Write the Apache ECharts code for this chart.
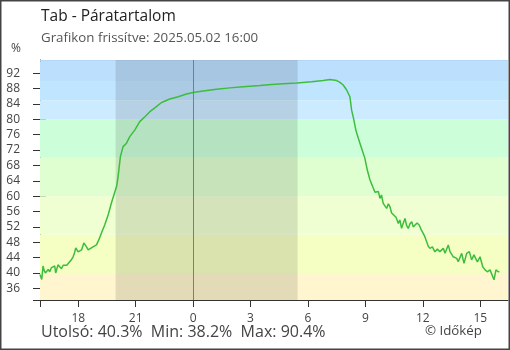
<!DOCTYPE html>
<html>
<head>
<meta charset="utf-8">
<script src="https://cdn.jsdelivr.net/npm/echarts@6/dist/echarts.min.js"></script>
<style>
html,body{margin:0;padding:0;background:#fff;}
#c{width:510px;height:350px;}
</style>
</head>
<body>
<div id="c"></div>
<script>
// hours relative to midnight of 2025.05.02, humidity %
const humidityPoints = [
[-8.00,39.6],[-7.96,39.0],[-7.91,38.3],[-7.84,41.8],[-7.78,40.6],[-7.72,40.0],[-7.66,40.5],[-7.57,40.9],
[-7.49,40.3],[-7.40,41.4],[-7.30,41.0],[-7.23,41.8],[-7.18,40.0],[-7.06,42.1],[-6.97,42.6],[-6.88,41.1],
[-6.79,42.0],[-6.71,42.4],[-6.60,42.0],[-6.45,42.9],[-6.35,43.5],[-6.27,44.2],[-6.20,45.2],[-6.13,46.5],
[-6.01,45.5],[-5.92,46.0],[-5.83,46.0],[-5.71,47.8],[-5.57,46.8],[-5.48,46.0],[-5.40,45.7],[-5.23,46.8],
[-5.05,47.3],[-4.93,48.6],[-4.79,50.4],[-4.62,52.5],[-4.44,55.1],[-4.27,58.2],[-4.09,61.1],[-4.00,62.5],
[-3.92,65.1],[-3.80,70.3],[-3.66,72.9],[-3.48,73.8],[-3.31,75.5],[-3.05,77.2],[-2.79,79.4],[-2.52,80.7],
[-2.26,82.0],[-2.00,83.0],[-1.65,84.4],[-1.22,85.3],[-0.78,85.9],[-0.35,86.6],[0.00,87.0],[0.52,87.4],
[1.22,87.85],[1.92,88.2],[2.61,88.5],[3.49,88.8],[4.10,89.1],[4.70,89.3],[5.41,89.5],[6.19,89.8],
[6.80,90.1],[7.15,90.4],[7.50,90.1],[7.67,89.65],[7.84,88.95],[8.02,87.65],[8.19,85.9],[8.28,82.4],
[8.40,79.8],[8.50,77.2],[8.63,75.1],[8.80,72.5],[8.97,69.9],[9.10,66.8],[9.24,64.2],[9.41,62.1],
[9.50,61.0],[9.59,60.75],[9.68,61.2],[9.76,59.4],[9.84,60.3],[9.93,58.1],[10.02,57.6],[10.11,56.8],
[10.20,58.0],[10.28,57.3],[10.37,55.6],[10.46,55.1],[10.60,54.5],[10.72,52.9],[10.80,53.8],[10.89,51.6],
[10.98,53.0],[11.07,54.2],[11.15,52.4],[11.24,51.6],[11.33,52.8],[11.42,53.35],[11.50,52.0],[11.59,52.1],
[11.70,53.0],[11.81,52.5],[11.92,51.2],[12.02,50.3],[12.10,49.5],[12.20,48.15],[12.28,47.0],[12.37,46.4],
[12.50,46.8],[12.63,45.5],[12.76,46.2],[12.89,45.55],[13.07,46.4],[13.16,45.1],[13.33,47.3],[13.42,45.55],
[13.59,44.2],[13.77,43.8],[13.85,42.9],[14.03,45.1],[14.15,42.5],[14.29,45.1],[14.43,45.55],[14.55,43.4],
[14.67,44.7],[14.85,42.9],[14.99,44.2],[15.13,41.6],[15.25,40.8],[15.37,40.3],[15.51,40.8],[15.60,41.2],
[15.72,38.2],[15.82,40.8],[15.94,40.3],[16.00,40.3]
];
const xTickHours = [-6,-3,0,3,6,9,12,15];
const yTickValues = [36,40,44,48,52,56,60,64,68,72,76,80,84,88,92];
const bandEdges = [32.95,40,50,60,70,80,85,90,95,95.46];
const bandColors = ['#fff6cf','#f5ffc4','#efffd1','#dfffd0','#ccffd9','#cdebff','#bfe5ff','#bbdffd','#b4d6f6'];
const nightStart = -4.05, nightEnd = 5.46;
const titleText = 'Tab - Páratartalom';
const subtitleText = 'Grafikon frissítve: 2025.05.02 16:00';
const statsText = 'Utolsó: 40.3%  Min: 38.2%  Max: 90.4%';
const creditText = '© Időkép';
const X_MIN = -8, X_MAX = 16.45, Y_MIN = 32.95, Y_MAX = 95.46;

const FONT = '"Open Sans", "Noto Sans", sans-serif';
const chart = echarts.init(document.getElementById('c'), null, {renderer:'canvas'});

const bands = [];
for (let i = 0; i < bandColors.length; i++) {
  bands.push([{yAxis: bandEdges[i], itemStyle:{color: bandColors[i]}}, {yAxis: bandEdges[i+1]}]);
}
const hourLabel = v => String(((Math.round(v) % 24) + 24) % 24);

const axisLineStyle = {color:'#333', width:1};
chart.setOption({
  animation:false,
  grid:{left:40, right:2, top:60, bottom:50, containLabel:false},
  xAxis:[
    {type:'value', min:X_MIN, max:X_MAX, position:'bottom',
     axisLine:{onZero:false, lineStyle:axisLineStyle},
     axisTick:{show:true, inside:false, length:7, customValues:xTickHours, lineStyle:axisLineStyle},
     axisLabel:{customValues:xTickHours, formatter:hourLabel, color:'#444', fontSize:12, fontFamily:FONT, margin:13},
     splitLine:{show:false}},
    {type:'value', min:X_MIN, max:X_MAX, position:'bottom',
     axisLine:{show:false, onZero:false},
     axisTick:{show:true, inside:true, length:6, customValues:xTickHours, lineStyle:axisLineStyle},
     axisLabel:{show:false}, splitLine:{show:false}}
  ],
  yAxis:[
    {type:'value', min:Y_MIN, max:Y_MAX, position:'left',
     axisLine:{show:true, onZero:false, lineStyle:axisLineStyle},
     axisTick:{show:true, inside:false, length:7, customValues:yTickValues, lineStyle:axisLineStyle},
     axisLabel:{customValues:yTickValues, color:'#444', fontSize:12, fontFamily:FONT, margin:20},
     splitLine:{show:false}},
    {type:'value', min:Y_MIN, max:Y_MAX, position:'left',
     axisLine:{show:false, onZero:false},
     axisTick:{show:true, inside:true, length:6, customValues:yTickValues, lineStyle:axisLineStyle},
     axisLabel:{show:false}, splitLine:{show:false}}
  ],
  series:[
    {type:'line', data:humidityPoints, xAxisIndex:0, yAxisIndex:0, z:1, silent:true, symbol:'none',
     lineStyle:{opacity:0},
     markArea:{silent:true, data:bands}},
    {type:'line', data:humidityPoints, xAxisIndex:0, yAxisIndex:0, z:2, silent:true, symbol:'none',
     lineStyle:{opacity:0},
     markArea:{silent:true, itemStyle:{color:'rgba(0,0,0,0.11)'}, data:[[{xAxis:nightStart},{xAxis:nightEnd}]]},
     markLine:{silent:true, symbol:'none', label:{show:false}, lineStyle:{color:'#3a8fd0', width:1, type:'solid'},
       data:[{xAxis:0}]}},
    {type:'line', data:humidityPoints, xAxisIndex:0, yAxisIndex:0, z:3, symbol:'none', silent:true,
     lineStyle:{color:'#3dbd3d', width:1.5}}
  ],
  graphic:[
    {type:'rect', shape:{x:0.75, y:0.75, width:508.5, height:348.5}, style:{fill:null, stroke:'#444', lineWidth:1.5}, z:100},
    {type:'text', left:41, top:9, style:{text:titleText, fontSize:15.5, fontFamily:FONT, fill:'#222'}},
    {type:'text', left:41, top:32, style:{text:subtitleText, fontSize:13.3, fontFamily:FONT, fill:'#555'}},
    {type:'text', left:11, top:43, style:{text:'%', fontSize:12, fontFamily:FONT, fill:'#444'}},
    {type:'text', left:41, top:324, style:{text:statsText, fontSize:16, fontFamily:FONT, fill:'#444'}},
    {type:'text', left:425, top:325, style:{text:creditText, fontSize:13.3, fontFamily:FONT, fill:'#444'}},
    {type:'line', shape:{x1:33, y1:300.5, x2:40, y2:300.5}, style:{stroke:'#333', lineWidth:1}},
    {type:'line', shape:{x1:40.5, y1:300, x2:40.5, y2:307}, style:{stroke:'#333', lineWidth:1}}
  ]
});
</script>
</body>
</html>
